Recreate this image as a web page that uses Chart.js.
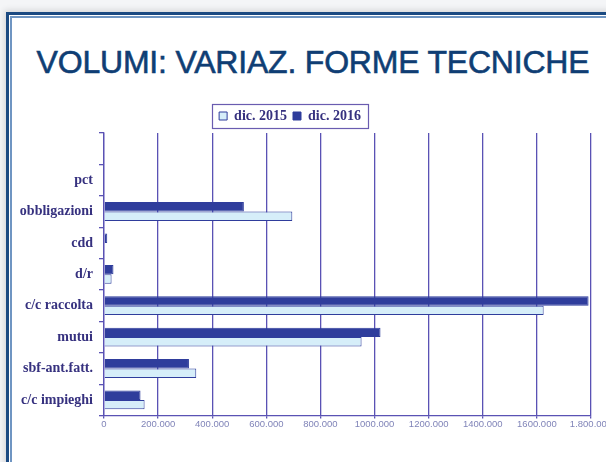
<!DOCTYPE html>
<html>
<head>
<meta charset="utf-8">
<script src="https://cdn.jsdelivr.net/npm/chart.js@4"></script>
<style>
  html, body { margin: 0; padding: 0; background: #f4f5f7; overflow: hidden; }
  body { width: 606px; height: 462px; position: relative; }
  .frame {
    position: absolute; left: 6px; top: 12px; width: 640px; height: 480px;
    border: 3px solid #1b4a82; background: #fff;
    box-shadow: -2px -2px 6px rgba(0,0,0,0.12);
  }
  .frame::before {
    content: ''; position: absolute; left: 1px; top: 1px; right: 0; bottom: 0;
    border-left: 2px solid #6f95c2; border-top: 2px solid #6f95c2;
  }
  h1 {
    position: absolute; left: 0; width: 626px; top: 44px; margin: 0;
    text-align: center; font: 32px "Liberation Sans", Arial, sans-serif;
    color: #0f3e74; letter-spacing: -0.2px;
    -webkit-text-stroke: 0.6px #0f3e74;
  }
  #wrap { position: absolute; left: 0; top: 92px; width: 640px; height: 346px; }
</style>
</head>
<body>
<div class="frame"></div>
<h1>VOLUMI: VARIAZ. FORME TECNICHE</h1>
<div id="wrap"><canvas id="chart"></canvas></div>
<script>
const categories = ['', 'pct', 'obbligazioni', 'cdd', 'd/r', 'c/c raccolta', 'mutui', 'sbf-ant.fatt.', 'c/c impieghi'];
const values2015 = [null, 0, 696000, 2000, 28000, 1625000, 952000, 341000, 150000];
const values2016 = [null, 0, 517000, 12000, 35000, 1791000, 1022000, 314000, 135000];
const xTicks = [0, 200000, 400000, 600000, 800000, 1000000, 1200000, 1400000, 1600000, 1800000];
const xTickLabels = ['0', '200.000', '400.000', '600.000', '800.000', '1000.000', '1200.000', '1400.000', '1600.000', '1.800.000'];

const navy = '#2f3d9c';
const light = '#d6eef9';
const gridCol = '#5a52b4';
const labelCol = '#36317f';

// legend sits left of centre in the original, with a thin box round it
const legendBox = {
  id: 'legendBox',
  afterUpdate(chart) {
    const lg = chart.legend;
    const dx = 290 - (lg.left + lg.right) / 2;
    lg.left += dx;
    lg.right += dx;
    lg.legendHitBoxes.forEach(h => { h.left += dx; });
  },
  afterDraw(chart) {
    const hb = chart.legend.legendHitBoxes;
    if (!hb.length) return;
    const x1 = Math.min(...hb.map(h => h.left)) - 7;
    const x2 = Math.max(...hb.map(h => h.left + h.width)) + 7;
    const y1 = hb[0].top - 5;
    const y2 = hb[0].top + hb[0].height + 5;
    const c = chart.ctx;
    c.save();
    c.strokeStyle = '#6a5cb0';
    c.lineWidth = 1.2;
    c.strokeRect(Math.round(x1) + 0.5, Math.round(y1) + 0.5, Math.round(x2 - x1), Math.round(y2 - y1));
    c.restore();
  }
};

new Chart(document.getElementById('chart'), {
  type: 'bar',
  data: {
    labels: categories,
    datasets: [{
      label: 'dic. 2016',
      data: values2016,
      backgroundColor: navy,
      borderColor: navy,
      borderWidth: 1,
      categoryPercentage: 0.6,
      barPercentage: 1
    }, {
      label: 'dic. 2015',
      data: values2015,
      backgroundColor: light,
      borderColor: navy,
      borderWidth: 1,
      categoryPercentage: 0.6,
      barPercentage: 1
    }]
  },
  options: {
    indexAxis: 'y',
    responsive: true,
    maintainAspectRatio: false,
    animation: false,
    layout: { padding: { left: 12, right: 49, top: 11, bottom: 8 } },
    plugins: {
      tooltip: { enabled: false },
      legend: {
        position: 'top',
        labels: {
          sort: (a, b) => b.datasetIndex - a.datasetIndex,
          boxWidth: 8, boxHeight: 8, padding: 6,
          color: labelCol,
          font: { family: '"Liberation Serif", "DejaVu Serif", serif', size: 14, weight: 'bold' }
        }
      }
    },
    scales: {
      x: {
        min: 0, max: 1800000,
        afterBuildTicks: s => { s.ticks = xTicks.map(v => ({ value: v })); },
        grid: { color: gridCol, lineWidth: 1.3, tickLength: 3 },
        border: { color: gridCol, width: 1.3 },
        ticks: {
          color: '#8084b8', padding: 0, maxRotation: 0,
          font: { family: '"Liberation Sans", Arial, sans-serif', size: 9.5 },
          callback: (v, i) => xTickLabels[i]
        }
      },
      y: {
        afterFit: s => { s.width = 92; },
        grid: { drawOnChartArea: false, color: gridCol, lineWidth: 1.3, tickLength: 5, offset: true },
        border: { color: gridCol, width: 1.3 },
        ticks: {
          color: labelCol, padding: 6,
          font: { family: '"Liberation Serif", "DejaVu Serif", serif', size: 14, weight: 'bold' }
        }
      }
    }
  },
  plugins: [legendBox]
});
</script>
</body>
</html>
